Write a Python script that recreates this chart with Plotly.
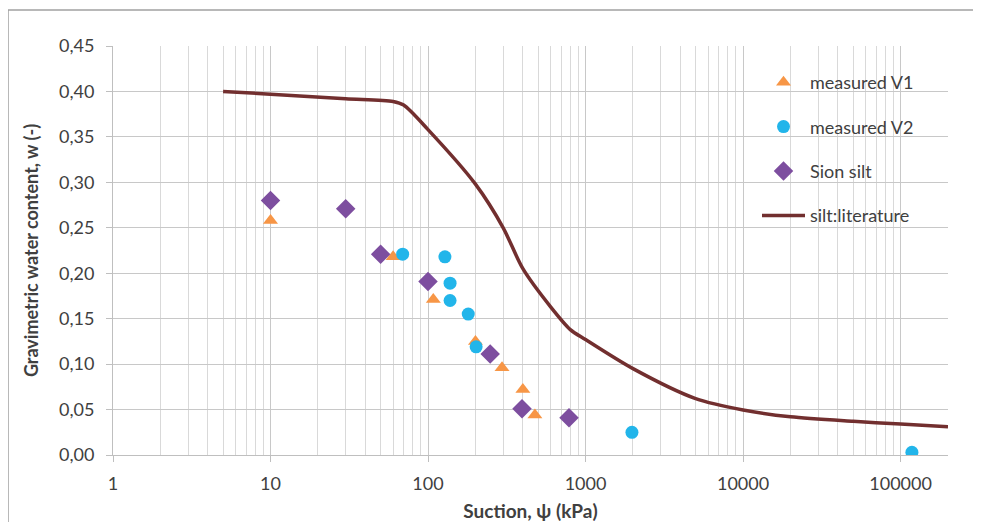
import plotly.graph_objects as go

# ---- data ----
v1_suction = [10, 60, 108, 200, 295, 400, 477]
v1_w = [0.258, 0.218, 0.171, 0.125, 0.096, 0.072, 0.044]

v2_suction = [69, 128, 138, 138, 180, 202, 1970, 118000]
v2_w = [0.221, 0.218, 0.189, 0.170, 0.155, 0.119, 0.025, 0.003]

sion_suction = [10, 30, 50, 100, 248, 395, 785]
sion_w = [0.280, 0.271, 0.221, 0.191, 0.111, 0.051, 0.041]

lit_suction = [5, 10, 30, 60, 70, 100, 200, 300, 400, 600, 800, 1000, 2000,
               5000, 10000, 20000, 50000, 100000, 200000]
lit_w = [0.400, 0.397, 0.392, 0.389, 0.385, 0.358, 0.298, 0.250, 0.205, 0.163,
         0.138, 0.127, 0.095, 0.062, 0.0495, 0.042, 0.037, 0.034, 0.031]

y_ticks = [0.00, 0.05, 0.10, 0.15, 0.20, 0.25, 0.30, 0.35, 0.40, 0.45]
x_ticks = [1, 10, 100, 1000, 10000, 100000]
x_minor = [m * d for d in x_ticks for m in range(2, 10)]

FONT = "Lato"
TXT = "#404040"

fig = go.Figure()
fig.add_trace(go.Scatter(x=v1_suction, y=v1_w, mode="markers", name="measured V1",
                         legendgroup="a",
                         marker=dict(symbol="triangle-up", size=13, color="#F79646")))
fig.add_trace(go.Scatter(x=v2_suction, y=v2_w, mode="markers", name="measured V2",
                         legendgroup="b",
                         marker=dict(symbol="circle", size=13, color="#22B5EA")))
fig.add_trace(go.Scatter(x=sion_suction, y=sion_w, mode="markers", name="Sion silt",
                         legendgroup="c",
                         marker=dict(symbol="diamond", size=15, color="#7D4E9F")))
fig.add_trace(go.Scatter(x=lit_suction, y=lit_w, mode="lines", name="silt:literature",
                         legendgroup="d",
                         line=dict(color="#722F2F", width=3.5, shape="spline", smoothing=0.8)))

# page has an 8px body margin; work in page pixels and convert
OFF = 8
W, H = 981 - OFF, 522 - OFF
PL, PR, PT, PB = 113, 948, 46, 455          # plot area in page px
L, T = PL - OFF, PT - OFF
R = W - (PR - OFF)
B = H - (PB - OFF)
pw, ph = PR - PL, PB - PT


def px(p):
    return (p - PL) / pw


def py(p):
    return (PB - p) / ph


fig.update_layout(
    width=W, height=H,
    margin=dict(l=L, r=R, t=T, b=B, autoexpand=False),
    paper_bgcolor="white", plot_bgcolor="white",
    separators=",.",
    font=dict(family=FONT, size=18, color=TXT),
    showlegend=True,
    legend=dict(x=px(757), y=py(64), xanchor="left", yanchor="top",
                bgcolor="rgba(0,0,0,0)", traceorder="grouped", tracegroupgap=18,
                font=dict(family=FONT, size=18, color=TXT), itemwidth=43),
    xaxis=dict(type="log", range=[0, 5.301], automargin=False,
               tickvals=x_ticks, ticktext=[str(v) for v in x_ticks],
               showgrid=True, gridcolor="#c8c8c8", gridwidth=1.2,
               minor=dict(tickvals=x_minor, showgrid=True, gridcolor="#d9d9d9",
                          gridwidth=1, ticks=""),
               ticks="outside", ticklen=6, tickcolor="#bfbfbf",
               ticklabelstandoff=6,
               showline=True, linecolor="#bfbfbf", linewidth=1,
               zeroline=False,
               tickfont=dict(family=FONT, size=18, color=TXT),
               title=dict(text="<b>Suction, ψ (kPa)</b>",
                          font=dict(family=FONT, size=19, color=TXT))),
    yaxis=dict(range=[0, 0.45], tickvals=y_ticks, tickformat=".2f", automargin=False,
               showgrid=True, gridcolor="#c8c8c8", gridwidth=1.2,
               ticks="outside", ticklen=6, tickcolor="#bfbfbf",
               ticklabelstandoff=8,
               showline=True, linecolor="#bfbfbf", linewidth=1,
               zeroline=False,
               tickfont=dict(family=FONT, size=18, color=TXT),
               title=dict(text="<b>Gravimetric water content, w (-)</b>",
                          font=dict(family=FONT, size=18, color=TXT))),
)

# outer chart border (top and left visible)
fig.add_shape(type="line", xref="paper", yref="paper",
              x0=px(8), x1=px(981), y0=py(10), y1=py(10),
              line=dict(color="#a0a0a0", width=1.5))
fig.add_shape(type="line", xref="paper", yref="paper",
              x0=px(8), x1=px(8), y0=py(10), y1=py(522),
              line=dict(color="#a0a0a0", width=1.5))

fig.write_html("out.html")
